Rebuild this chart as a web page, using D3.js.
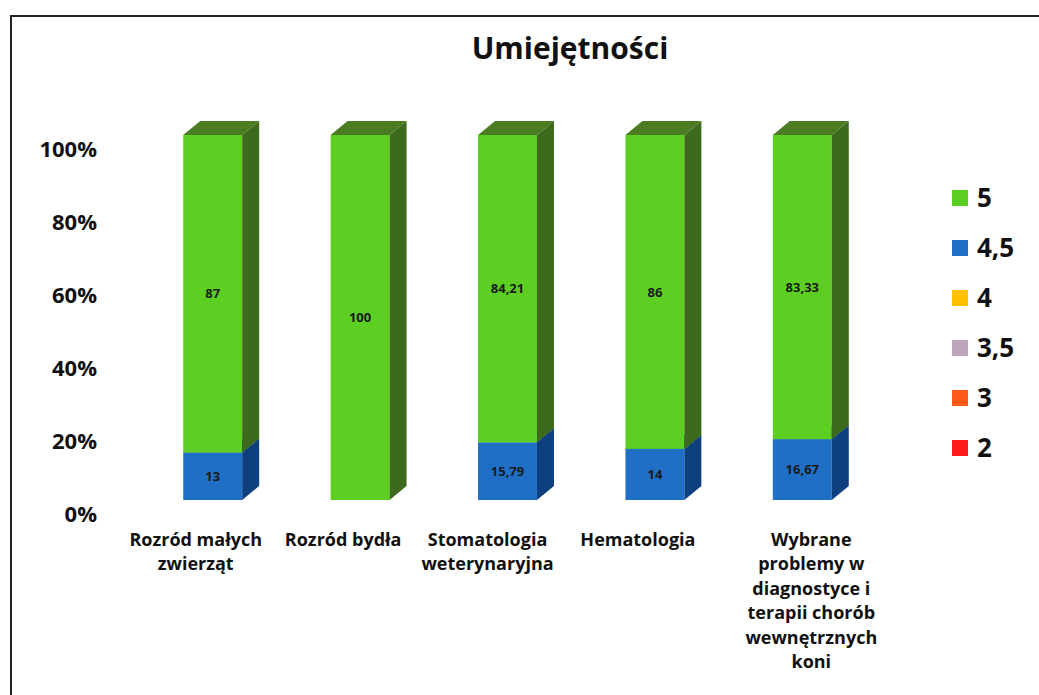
<!DOCTYPE html>
<html lang="pl">
<head>
<meta charset="utf-8">
<title>Umiejętności</title>
<script src="https://d3js.org/d3.v7.min.js"></script>
<style>
  html, body { margin: 0; background: #fff; overflow: hidden; }
  svg { display: block; }
  svg text { font-family: "Open Sans", Lato, sans-serif; font-weight: bold; fill: #111; }
</style>
</head>
<body>
<script>
// kategorie (przedmioty)
var categories = [
  ["Rozród małych", "zwierząt"],
  ["Rozród bydła"],
  ["Stomatologia", "weterynaryjna"],
  ["Hematologia"],
  ["Wybrane", "problemy w", "diagnostyce i", "terapii chorób", "wewnętrznych", "koni"]
];

// oceny (serie), od dołu stosu do góry
var grades = ["2", "3", "3,5", "4", "4,5", "5"];
var colors = ["#ff1a1a", "#ff5a1a", "#bba6bd", "#ffc000", "#1f6fc6", "#5ccf22"];
var sideColors = ["#a01010", "#a83a10", "#7c6a7e", "#a87e00", "#0e3f7e", "#3d6a1c"];
var topColors = ["#c01515", "#c84818", "#958097", "#c89600", "#164f96", "#4b7c22"];

var v2   = [0, 0, 0, 0, 0];
var v3   = [0, 0, 0, 0, 0];
var v35  = [0, 0, 0, 0, 0];
var v4   = [0, 0, 0, 0, 0];
var v45  = [13, 0, 15.79, 14, 16.67];
var v5   = [87, 100, 84.21, 86, 83.33];
var values = [v2, v3, v35, v4, v45, v5];

var yTicks = [0, 20, 40, 60, 80, 100];

var w = 1039, h = 695;
var dx = 17, dy = -14; // głębokość 3D

var svg = d3.select("body").append("svg")
  .attr("width", w)
  .attr("height", h);

// ramka (lewa i górna krawędź widoczne)
svg.append("path")
  .attr("d", "M11," + h + "V16H" + w)
  .attr("fill", "none")
  .attr("stroke", "#222")
  .attr("stroke-width", 2);

svg.append("text")
  .attr("x", 570).attr("y", 59)
  .attr("text-anchor", "middle")
  .style("font-size", "30px")
  .text("Umiejętności");

var xScale = d3.scaleBand()
  .domain(d3.range(categories.length))
  .range([139, 876])
  .paddingInner(0.6)
  .paddingOuter(0.3);

var yScale = d3.scaleLinear()
  .domain([0, 100])
  .range([500, 135]);

// etykiety osi Y
svg.selectAll(".ytick")
  .data(yTicks)
  .enter()
  .append("text")
  .attr("class", "ytick")
  .attr("x", 97)
  .attr("y", function(d) { return yScale(d) + 14; })
  .attr("dy", "0.35em")
  .attr("text-anchor", "end")
  .style("font-size", "22px")
  .text(function(d) { return d + "%"; });

// stos
var stack = [];
categories.forEach(function(c, i) {
  var base = 0;
  values.forEach(function(arr, s) {
    var v = arr[i];
    if (v > 0) {
      stack.push({ cat: i, s: s, y0: base, y1: base + v, v: v });
    }
    base += v;
  });
});

var bw = xScale.bandwidth();

var seg = svg.selectAll(".seg")
  .data(stack)
  .enter()
  .append("g")
  .attr("class", "seg");

seg.append("rect")
  .attr("x", function(d) { return xScale(d.cat); })
  .attr("y", function(d) { return yScale(d.y1); })
  .attr("width", bw)
  .attr("height", function(d) { return yScale(d.y0) - yScale(d.y1); })
  .attr("fill", function(d) { return colors[d.s]; });

seg.append("path")
  .attr("d", function(d) {
    var x = xScale(d.cat) + bw, a = yScale(d.y1), b = yScale(d.y0);
    return "M" + x + "," + a + "L" + (x + dx) + "," + (a + dy) +
      "L" + (x + dx) + "," + (b + dy) + "L" + x + "," + b + "Z";
  })
  .attr("fill", function(d) { return sideColors[d.s]; });

seg.append("path")
  .attr("d", function(d) {
    var x = xScale(d.cat), a = yScale(d.y1);
    return "M" + x + "," + a + "L" + (x + bw) + "," + a +
      "L" + (x + bw + dx) + "," + (a + dy) + "L" + (x + dx) + "," + (a + dy) + "Z";
  })
  .attr("fill", function(d) { return topColors[d.s]; });

// wartości
svg.selectAll(".val")
  .data(stack)
  .enter()
  .append("text")
  .attr("class", "val")
  .attr("x", function(d) { return xScale(d.cat) + bw / 2; })
  .attr("y", function(d) { return yScale((d.y0 + d.y1) / 2); })
  .attr("dy", "0.35em")
  .attr("text-anchor", "middle")
  .style("font-size", "13px")
  .style("fill", "#1a1a1a")
  .text(function(d) { return String(d.v).replace(".", ","); });

// etykiety kategorii - w oryginale (perspektywa 3D) lekko przesunięte względem słupków
var labelShift = [-17, -17, -20, -17, 9];
var cat = svg.selectAll(".cat")
  .data(categories)
  .enter()
  .append("text")
  .attr("class", "cat")
  .attr("text-anchor", "middle")
  .style("font-size", "18px")
  .attr("transform", function(d, i) {
    return "translate(" + (xScale(i) + bw / 2 + labelShift[i]) + ",546)";
  });

cat.selectAll("tspan")
  .data(function(d) { return d; })
  .enter()
  .append("tspan")
  .attr("x", 0)
  .attr("y", function(d, j) { return j * 24.4; })
  .text(function(d) { return d; });

// legenda (od góry: 5 ... 2)
var legendItems = d3.range(grades.length).reverse();
var lg = svg.selectAll(".lg")
  .data(legendItems)
  .enter()
  .append("g")
  .attr("class", "lg")
  .attr("transform", function(d, k) { return "translate(952," + (198 + k * 50) + ")"; });

lg.append("rect")
  .attr("x", 0).attr("y", -8)
  .attr("width", 16).attr("height", 16)
  .attr("fill", function(d) { return colors[d]; });

lg.append("text")
  .attr("x", 25)
  .attr("dy", "0.36em")
  .style("font-size", "26px")
  .text(function(d) { return grades[d]; });
</script>
</body>
</html>
